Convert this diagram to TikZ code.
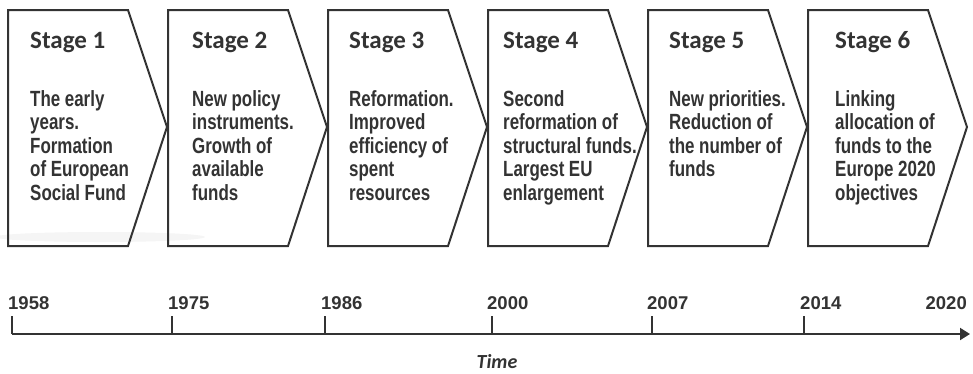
\documentclass[tikz,border=0pt]{standalone}
\usepackage{fontspec}
\setmainfont{Liberation Sans}
\newfontfamily\bodyfont{Liberation Sans Bold}[FakeStretch=0.77]
\newfontfamily\headfont{Carlito}
\usetikzlibrary{arrows.meta}
\definecolor{ink}{HTML}{333333}
\tikzset{
  stagebox/.style={draw=ink, line width=2pt, line join=miter},
  headtxt/.style={anchor=base west, inner sep=0pt, text=ink, font=\headfont\bfseries\fontsize{25}{25}\selectfont},
  bodytxt/.style={anchor=base west, inner sep=0pt, text=ink, text width=150pt, align=left,
    font=\bodyfont\fontsize{22}{23.5}\selectfont,
    execute at begin node={\spaceskip=4.6pt plus 1pt minus 1pt\relax}},
  axisline/.style={draw=ink, line width=2pt},
  yeartxt/.style={anchor=base west, inner sep=0pt, text=ink, font=\bfseries\fontsize{18.5}{18.5}\selectfont},
  timetxt/.style={anchor=base, inner sep=0pt, text=ink, font=\headfont\bfseries\itshape\fontsize{20}{20}\selectfont}
}
\begin{document}
\begin{tikzpicture}[x=1pt,y=-1pt]
\useasboundingbox (0,0) rectangle (973,373);
% faint reflection
\fill[black!4] (100,237) ellipse [x radius=105, y radius=5];
\foreach \i/\x/\dx/\txt in {
  1/8/22/{The early\\years.\\Formation\\of European\\Social Fund},
  2/168/24/{New policy\\instruments.\\Growth of\\available\\funds},
  3/328/21/{Reformation.\\Improved\\efficiency of\\spent\\resources},
  4/488/15/{Second\\reformation of\\structural funds.\\Largest EU\\enlargement},
  5/648/21/{New priorities.\\Reduction of\\the number of\\funds},
  6/808/27/{Linking\\allocation of\\funds to the\\Europe 2020\\objectives}}{
  \draw[stagebox] (\x,10) -- ++(120,0) -- ++(39,117) -- ++(-39,119) -- ++(-120,0) -- cycle;
  \node[headtxt] (h\i) at (\x+\dx,48) {Stage \i};
  \node[bodytxt] (d\i) at (\x+\dx,106) {\txt};
}
% timeline
\coordinate (t0) at (12,334);
\coordinate (tend) at (970,334);
\draw[axisline,-{Triangle[length=10pt,width=12pt]}] (t0) -- (tend);
\foreach \n/\x/\lx/\yr in {0/12/8/1958,1/172/168/1975,2/325/321/1986,3/492/487/2000,4/652/647/2007,5/804/800/2014}{
  \coordinate (k\n) at (\x,334);
  \coordinate (k\n top) at (\x,316);
  \draw[axisline] (k\n) -- (k\n top);
  \node[yeartxt] (y\n) at (\lx,309) {\yr};
}
\node[yeartxt, anchor=base east] (y6) at (967,309) {2020};
\node[timetxt] (time) at (497,368) {Time};
\end{tikzpicture}
\end{document}
